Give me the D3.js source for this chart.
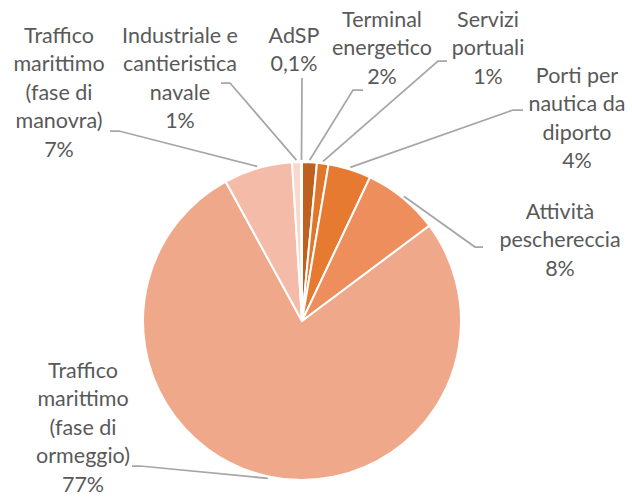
<!DOCTYPE html>
<html>
<head>
<meta charset="utf-8">
<script src="https://cdn.jsdelivr.net/npm/d3@7"></script>
<style>
  body { margin: 0; background: #fff; }
  text { font-family: Lato, "Open Sans", sans-serif; font-size: 21.5px; fill: #595959; }
</style>
</head>
<body>
<script>
var w = 632;
var h = 497;

// data (share of total, %)
var names = ["Terminal\nenergetico", "Servizi\nportuali", "Porti per\nnautica da\ndiporto",
             "Attività\npeschereccia", "Traffico\nmarittimo\n(fase di\normeggio)",
             "Traffico\nmarittimo\n(fase di\nmanovra)", "Industriale e\ncantieristica\nnavale", "AdSP"];
var values = [1.5, 1.17, 4.36, 7.75, 77.25, 6.97, 0.9, 0.1];
var pctLabels = ["2%", "1%", "4%", "8%", "77%", "7%", "1%", "0,1%"];
var colors = ["#C0601F", "#E0762C", "#E57A30", "#EE8E5C", "#F0A88A", "#F4BCA8", "#F9D8CB", "#FBE4D8"];

// label layout: center x, first baseline, leader start and elbow
var labelLayout = [
  { x: 382, y: 27, p0: [363, 90], p1: [353, 90] },
  { x: 488, y: 27, p0: [447, 61], p1: [438, 61] },
  { x: 577, y: 83, p0: [523, 110], p1: [513, 110] },
  { x: 560, y: 219, p0: [483, 247], p1: [475, 247] },
  { x: 83, y: 378, p0: [132, 466], p1: [140, 466] },
  { x: 59, y: 43, p0: [110, 131], p1: [119, 131] },
  { x: 180, y: 43, p0: [221, 83], p1: [230, 83] },
  { x: 294, y: 43, p0: [302, 78], p1: [302, 78] }
];

var cx = 302, cy = 321, r = 159, lh = 28.4;

var svg = d3.select("body")
  .append("svg")
  .attr("width", w)
  .attr("height", h);

var pie = d3.pie().sort(null).value(function(d) { return d; });
var arcs = pie(values);
var arc = d3.arc().innerRadius(0).outerRadius(r);
var edge = d3.arc().innerRadius(r + 2).outerRadius(r + 2);

var g = svg.append("g").attr("transform", "translate(" + cx + "," + cy + ")");

g.selectAll("path")
  .data(arcs)
  .enter()
  .append("path")
  .attr("d", arc)
  .attr("fill", function(d, i) { return colors[i]; })
  .attr("stroke", "#fff")
  .attr("stroke-width", 2);

// leader lines
svg.selectAll("polyline")
  .data(arcs)
  .enter()
  .append("polyline")
  .attr("points", function(d, i) {
    var c = edge.centroid(d);
    var L = labelLayout[i];
    return [L.p0, L.p1, [c[0] + cx, c[1] + cy]].map(function(p) { return p.join(","); }).join(" ");
  })
  .attr("fill", "none")
  .attr("stroke", "#A6A6A6")
  .attr("stroke-width", 1.75);

// labels
var labels = svg.selectAll("text.lbl")
  .data(names)
  .enter()
  .append("text")
  .attr("class", "lbl")
  .attr("text-anchor", "middle");

labels.each(function(d, i) {
  var lines = d.split("\n").concat([pctLabels[i]]);
  var L = labelLayout[i];
  d3.select(this).selectAll("tspan")
    .data(lines)
    .enter()
    .append("tspan")
    .attr("x", L.x)
    .attr("y", function(t, j) { return L.y + j * lh; })
    .text(function(t) { return t; });
});
</script>
</body>
</html>
